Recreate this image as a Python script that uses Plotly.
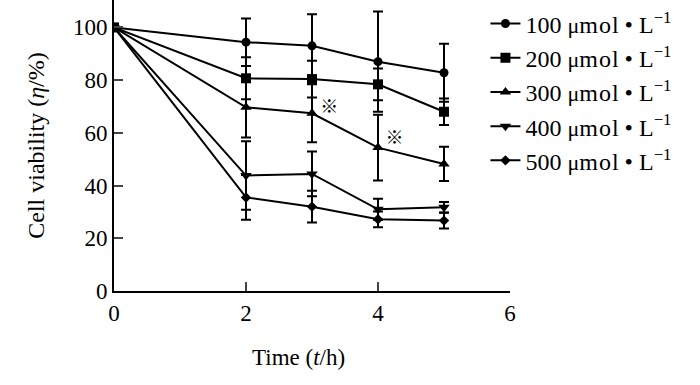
import plotly.graph_objects as go

time_h = [0, 2, 3, 4, 5]
series_names = ["100", "200", "300", "400", "500"]
viability = {
    "100": [100, 94.4, 93.0, 87.0, 82.8],
    "200": [100, 80.7, 80.4, 78.4, 68.0],
    "300": [100, 69.7, 67.4, 54.4, 48.2],
    "400": [100, 43.8, 44.4, 31.0, 31.8],
    "500": [100, 35.5, 32.0, 27.2, 26.7],
}
errors = {
    "100": [0, 9.0, 12.0, 19.0, 11.0],
    "200": [0, 8.0, 7.0, 6.0, 5.0],
    "300": [0, 11.5, 11.0, 12.5, 6.5],
    "400": [0, 13.0, 8.5, 4.0, 2.0],
    "500": [0, 8.5, 6.0, 3.0, 3.0],
}
symbols = {"100": "circle", "200": "square", "300": "triangle-up",
           "400": "triangle-down", "500": "diamond"}
sizes = {"100": 9, "200": 10, "300": 10, "400": 10, "500": 8}

star_x = [3.26, 4.25]
star_y = [69.4, 57.3]

FONT = "Liberation Serif"
fig = go.Figure()
for i, name in enumerate(series_names):
    fig.add_trace(go.Scatter(
        x=time_h, y=viability[name], mode="lines+markers",
        name=(f"{name} <span style='font-size:22px'>μ</span>"
              f"<span style='letter-spacing:1px'>mo</span>l • L<sup>−1</sup>"),
        legendgroup=name,
        line=dict(color="black", width=2),
        marker=dict(symbol=symbols[name], size=sizes[name], color="black"),
        error_y=dict(type="data", array=errors[name], visible=True,
                     color="black", thickness=2, width=5),
    ))

fig.add_trace(go.Scatter(
    x=star_x, y=star_y, mode="text", text=["※", "※"],
    textfont=dict(family="Noto Sans CJK SC", size=18, color="black"),
    showlegend=False, hoverinfo="skip"))

fig.add_annotation(text="Time (<i>t</i>/h)", xref="paper", yref="paper",
                   x=0.465, y=-0.23, xanchor="center", yanchor="middle",
                   showarrow=False, font=dict(family=FONT, size=23, color="black"))

fig.update_layout(
    width=700, height=385,
    margin=dict(l=114, r=190, t=0, b=94, autoexpand=False),
    paper_bgcolor="white", plot_bgcolor="white",
    font=dict(family=FONT, size=23, color="black"),
    showlegend=True,
    legend=dict(x=0.938, y=0.995, xanchor="left", yanchor="top",
                font=dict(family=FONT, size=24, color="black"),
                bgcolor="rgba(0,0,0,0)", tracegroupgap=0, itemwidth=30),
)
fig.update_xaxes(range=[0, 6], tickvals=[0, 2, 4, 6], ticks="inside", ticklen=9,
                 tickwidth=2, showline=True, linecolor="black", linewidth=2,
                 showgrid=False, zeroline=False, tickfont=dict(size=23),
                 automargin=False)
fig.update_yaxes(range=[0, 110.4], tickvals=[0, 20, 40, 60, 80, 100], ticks="inside",
                 ticklen=9, tickwidth=2, showline=True, linecolor="black", linewidth=2,
                 showgrid=False, zeroline=False, tickfont=dict(size=23),
                 automargin=False,
                 title=dict(text="Cell viability (<i>η</i>/%)", standoff=22,
                            font=dict(size=24)))

fig.write_html("out.html", config={"displayModeBar": False},
               post_script="document.body.style.margin='0px';")
